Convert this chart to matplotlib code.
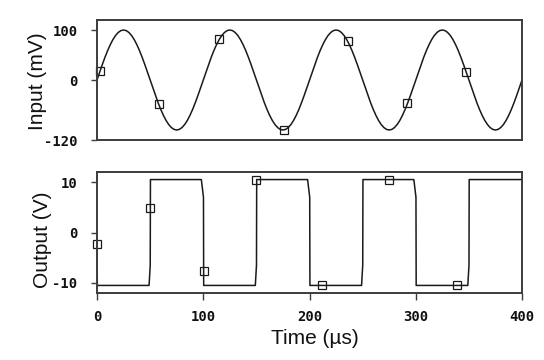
import numpy as np
import matplotlib
matplotlib.use("Agg")
import matplotlib.pyplot as plt

plt.rcParams["axes.unicode_minus"] = False

# input sine, one cycle read every 2.5 us (period 100 us), repeated 4 times
cycle_mv = [0, 15.6, 30.9, 45.4, 58.8, 70.7, 80.9, 89.1, 95.1, 98.8,
            100, 98.8, 95.1, 89.1, 80.9, 70.7, 58.8, 45.4, 30.9, 15.6,
            0, -15.6, -30.9, -45.4, -58.8, -70.7, -80.9, -89.1, -95.1, -98.8,
            -100, -98.8, -95.1, -89.1, -80.9, -70.7, -58.8, -45.4, -30.9, -15.6]
n_cycles = 4
step_us = 2.5

# sampled points (square markers)
in_mark_t = [3, 58, 114.6, 175.6, 236, 292, 347.4]
in_mark_v = [18, -48, 82, -100, 78, -46, 16]

# output square wave
out_start = [0, -1.5]
edge_t = [50, 100, 150, 200, 250, 300, 350]
out_high = 10.5
out_low = -10.5
t_end = 400
out_mark_t = [0, 50.3, 100.5, 150, 212, 275, 339]
out_mark_v = [-2.3, 4.9, -7.6, 10.4, -10.4, 10.4, -10.4]

in_v = np.array(cycle_mv * n_cycles + [cycle_mv[0]], dtype=float)
in_t = np.arange(len(in_v)) * step_us

# build output polyline from edge times
out_t = [out_start[0], 0.3]
out_v = [out_start[1], out_low]
level = out_low
for t in edge_t:
    if level == out_low:
        out_t += [t - 1.0, t + 0.1, t + 0.3]
        out_v += [out_low, -6.5, out_high]
        level = out_high
    else:
        out_t += [t - 1.8, t + 0.2, t + 0.4]
        out_v += [out_high, 7, out_low]
        level = out_low
out_t.append(t_end)
out_v.append(level)

line_c = "#1a1a1a"
spine_c = "#3c3c3c"
tick_font = {"family": "DejaVu Sans Mono", "weight": "bold", "size": 10}
label_font = {"family": "Liberation Sans", "size": 15}

fig = plt.figure(figsize=(5.44, 3.6), dpi=100)
ax1 = fig.add_axes([97 / 544, 1 - 140 / 360, 425 / 544, 120 / 360])
ax2 = fig.add_axes([97 / 544, 1 - 293 / 360, 425 / 544, 121 / 360])

ax1.plot(in_t, in_v, color=line_c, lw=1.1)
ax1.plot(in_mark_t, in_mark_v, "s", ms=5.5, mfc="none", mec=line_c, mew=0.9,
         clip_on=False)
ax1.set_xlim(0, 400)
ax1.set_ylim(-120, 120)
ax1.set_yticks([-120, 0, 100])
ax1.tick_params(axis="x", bottom=False, labelbottom=False)

ax2.plot(out_t, out_v, color=line_c, lw=1.1)
ax2.plot(out_mark_t, out_mark_v, "s", ms=5.5, mfc="none", mec=line_c, mew=0.9,
         clip_on=False)
ax2.set_xlim(0, 400)
ax2.set_ylim(-12, 12)
ax2.set_yticks([-10, 0, 10])
ax2.set_xticks([0, 100, 200, 300, 400])

for ax in (ax1, ax2):
    for s in ax.spines.values():
        s.set_color(spine_c)
        s.set_linewidth(1.4)
    ax.tick_params(axis="y", direction="out", length=4, width=1.0,
                   color=spine_c, pad=10)
    ax.tick_params(axis="x", direction="out", length=5, width=1.0,
                   color=spine_c, pad=7)
    for lab in ax.get_xticklabels() + ax.get_yticklabels():
        lab.set_fontproperties(matplotlib.font_manager.FontProperties(**tick_font))
        lab.set_color("#111111")

fig.text(37.5 / 544, 1 - 81 / 360, "Input (mV)", rotation=90,
         ha="center", va="center", color="#111111", **label_font)
fig.text(42.5 / 544, 1 - 240 / 360, "Output (V)", rotation=90,
         ha="center", va="center", color="#111111", **label_font)
fig.text(315 / 544, 1 - 338 / 360, "Time (µs)",
         ha="center", va="center", color="#111111", **label_font)

fig.savefig("out.png", dpi=100)
